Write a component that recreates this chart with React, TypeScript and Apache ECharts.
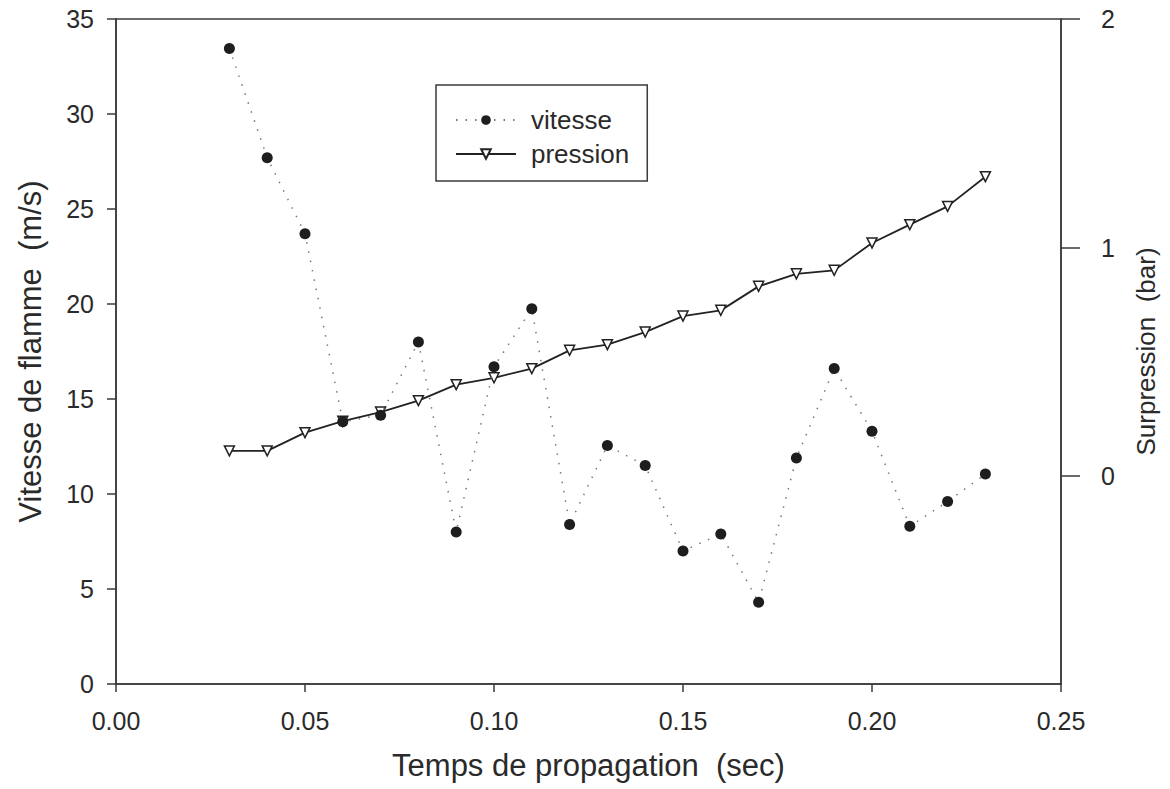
import React, { useEffect, useRef } from "react";
import * as echarts from "echarts";

const temps = [0.03, 0.04, 0.05, 0.06, 0.07, 0.08, 0.09, 0.1, 0.11, 0.12, 0.13, 0.14, 0.15, 0.16, 0.17, 0.18, 0.19, 0.2, 0.21, 0.22, 0.23];
const vitesse = [33.45, 27.7, 23.7, 13.8, 14.15, 18.0, 8.0, 16.7, 19.75, 8.4, 12.55, 11.5, 7.0, 7.9, 4.3, 11.9, 16.6, 13.3, 8.3, 9.6, 11.05];
const pression = [0.11, 0.11, 0.19, 0.24, 0.28, 0.33, 0.4, 0.43, 0.47, 0.55, 0.575, 0.63, 0.7, 0.725, 0.83, 0.885, 0.9, 1.02, 1.1, 1.18, 1.31];
const rightTicks = [0, 1, 2];

const FONT = "'Liberation Sans', Arial, Helvetica, sans-serif";
const TXT = "#2a2a2a";
const AX = "#3a3a3a";

export default function App() {
  const ref = useRef<HTMLDivElement>(null);
  useEffect(() => {
    if (!ref.current) return;
    const chart = echarts.init(ref.current, undefined, { renderer: "svg" });
    chart.setOption({
      animation: false,
      backgroundColor: "#ffffff",
      textStyle: { fontFamily: FONT, color: TXT },
      grid: {
        left: 116,
        right: 109,
        top: 19,
        bottom: 105,
        show: true,
        borderColor: AX,
        borderWidth: 1.5,
        containLabel: false,
        outerBoundsMode: "none",
      },
      legend: {
        orient: "vertical",
        left: 436,
        top: 85,
        padding: [22, 18, 14, 19],
        itemGap: 8,
        itemWidth: 60,
        itemHeight: 12,
        borderColor: AX,
        borderWidth: 1.5,
        textStyle: { fontSize: 26, color: TXT, fontFamily: FONT, padding: [0, 0, 0, 10] },
        data: ["vitesse", "pression"],
      },
      xAxis: {
        type: "value",
        min: 0,
        max: 0.25,
        interval: 0.05,
        name: "Temps de propagation  (sec)",
        nameLocation: "middle",
        nameGap: 66,
        nameMoveOverlap: false,
        nameTextStyle: { fontSize: 31, color: TXT, fontFamily: FONT },
        axisLine: { show: true, onZero: false, lineStyle: { color: AX, width: 1.5 } },
        axisTick: { show: true, length: 8, lineStyle: { color: AX, width: 1.5 } },
        axisLabel: {
          fontSize: 25,
          color: TXT,
          margin: 24,
          formatter: (v: number) => v.toFixed(2),
        },
        splitLine: { show: false },
      },
      yAxis: [
        {
          type: "value",
          min: 0,
          max: 35,
          interval: 5,
          position: "left",
          name: "Vitesse de flamme  (m/s)",
          nameLocation: "middle",
          nameGap: 70,
          nameMoveOverlap: false,
          nameRotate: 90,
          nameTextStyle: { fontSize: 31, color: TXT, fontFamily: FONT },
          axisLine: { show: true, lineStyle: { color: AX, width: 1.5 } },
          axisTick: { show: true, length: 9, lineStyle: { color: AX, width: 1.5 } },
          axisLabel: { fontSize: 25, color: TXT, margin: 22 },
          splitLine: { show: false },
        },
        {
          type: "value",
          min: -0.91,
          max: 2,
          position: "right",
          name: "Surpression  (bar)",
          nameLocation: "middle",
          nameGap: 72,
          nameMoveOverlap: false,
          nameRotate: 90,
          nameTextStyle: { fontSize: 26, color: TXT, fontFamily: FONT },
          axisLine: { show: true, lineStyle: { color: AX, width: 1.5 } },
          axisTick: { show: true, length: 19, customValues: rightTicks, lineStyle: { color: AX, width: 1.5 } },
          axisLabel: { fontSize: 25, color: TXT, margin: 39, customValues: rightTicks, padding: [0, 0, 0, 1] },
          splitLine: { show: false },
        },
      ],
      series: [
        {
          name: "vitesse",
          type: "line",
          yAxisIndex: 0,
          data: temps.map((t, i) => [t, vitesse[i]]),
          symbol: "circle",
          symbolSize: 11,
          itemStyle: { color: "#1e1e1e" },
          lineStyle: { color: "#777", width: 1.5, type: [1.5, 8] },
          z: 3,
        },
        {
          name: "pression",
          type: "line",
          yAxisIndex: 1,
          data: temps.map((t, i) => [t, pression[i]]),
          symbol: "triangle",
          symbolRotate: 180,
          symbolSize: 10,
          itemStyle: { color: "#ffffff", borderColor: "#222", borderWidth: 1.5 },
          lineStyle: { color: "#222", width: 1.8 },
          z: 2,
        },
      ],
    });
    return () => chart.dispose();
  }, []);
  return (
    <div
      ref={ref}
      style={{ position: "fixed", left: 0, top: 0, width: 1170, height: 789, background: "#fff" }}
    />
  );
}
